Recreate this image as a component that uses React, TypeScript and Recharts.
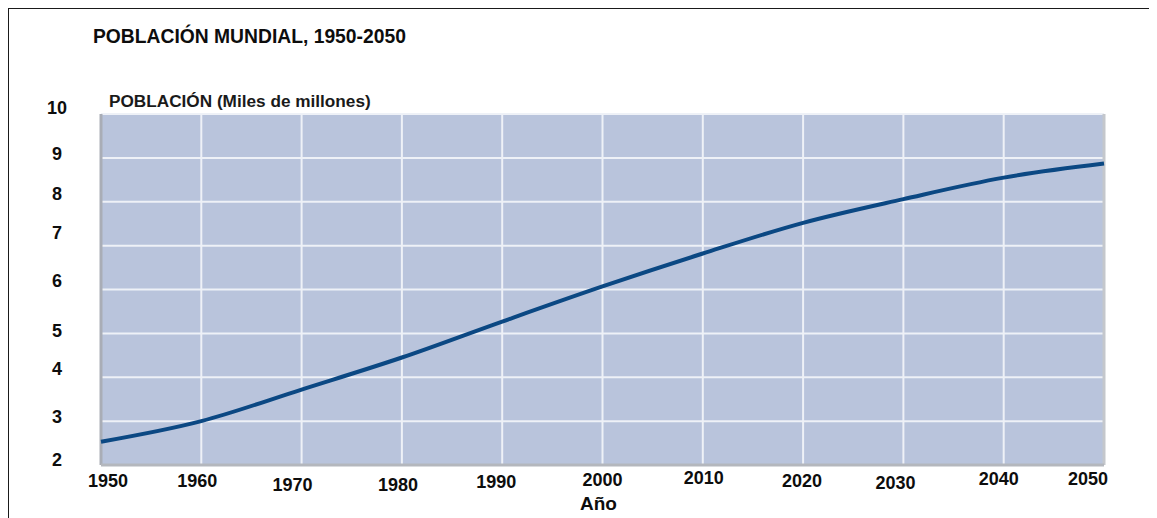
import { LineChart, Line, XAxis, YAxis, CartesianGrid, ReferenceLine } from 'recharts';

// World population, thousands of millions
const years = [1950, 1960, 1970, 1980, 1990, 2000, 2010, 2020, 2030, 2040, 2050];
const population = [2.53, 3.0, 3.72, 4.45, 5.27, 6.07, 6.82, 7.52, 8.06, 8.55, 8.87];
const yTicks = [2, 3, 4, 5, 6, 7, 8, 9, 10];

const data = years.map((year, i) => ({ year, pop: population[i] }));

const FONT = '"Liberation Sans", Arial, Helvetica, sans-serif';

// hand-set nudges so the labels sit like the printed original
const xNudge: Record<number, [number, number]> = {
  1950: [7, 16], 1960: [-4, 16], 1970: [-9, 20], 1980: [-4, 20], 1990: [-6, 17],
  2000: [0, 15], 2010: [1, 13], 2020: [-1, 16], 2030: [-8, 18], 2040: [-5, 14], 2050: [-16, 14],
};
const yNudge: Record<number, number> = { 10: -6, 9: -4, 8: -8, 7: -13, 6: -9, 5: -2, 4: -8, 3: -4, 2: -5 };

const XTick = ({ x, y, payload }: any) => {
  const [dx, dy] = xNudge[payload.value] ?? [0, 16];
  return (
    <text x={x + dx} y={y + dy} textAnchor="middle" dominantBaseline="central"
      fontFamily={FONT} fontWeight="bold" fontSize={18} fill="#0d0d0d">
      {payload.value}
    </text>
  );
};

const YTick = ({ x, y, payload }: any) => (
  <text x={x - 44} y={y + (yNudge[payload.value] ?? -5)} textAnchor="middle" dominantBaseline="central"
    fontFamily={FONT} fontWeight="bold" fontSize={18} fill="#0d0d0d">
    {payload.value}
  </text>
);

const AxisTitle = ({ viewBox }: any) => (
  <text x={viewBox.x + viewBox.width / 2 - 4} y={viewBox.y + 45} textAnchor="middle"
    fontFamily={FONT} fontWeight="bold" fontSize={19} fill="#0d0d0d">
    Año
  </text>
);

export default function App() {
  return (
    <div style={{ position: 'relative', width: 1149, height: 510, fontFamily: FONT }}>
      <div style={{ position: 'absolute', left: -1, top: -1, width: 1150, height: 511,
        borderTop: '2px solid #1a1a1a', borderLeft: '2px solid #1a1a1a' }} />
      <div style={{ position: 'absolute', left: 85, top: 19, fontSize: 19.3, lineHeight: '20px',
        fontWeight: 'bold', color: '#0d0d0d', whiteSpace: 'nowrap' }}>
        POBLACIÓN MUNDIAL, 1950-2050
      </div>
      <div style={{ position: 'absolute', left: 101, top: 84, fontSize: 17.2, lineHeight: '18px',
        fontWeight: 'bold', color: '#1a1a1a', whiteSpace: 'nowrap' }}>
        POBLACIÓN (Miles de millones)
      </div>
      <LineChart width={1149} height={510} data={data}
        margin={{ top: 106, right: 53, bottom: 0, left: 0 }}>
        <CartesianGrid fill="#b9c4dc" fillOpacity={1} stroke="#eef1f7" strokeWidth={2} />
        <XAxis dataKey="year" type="number" domain={[1950, 2050]} ticks={years}
          height={53} tickSize={0} tickMargin={0} tickLine={false} axisLine={false}
          tick={<XTick />} label={<AxisTitle />} />
        <YAxis domain={[2, 10]} ticks={yTicks} width={93} tickSize={0} tickMargin={0}
          tickLine={false} axisLine={false} tick={<YTick />} />
        <ReferenceLine x={1950} stroke="#a9adb6" strokeWidth={3} />
        <ReferenceLine x={2050} stroke="#c4c7cc" strokeWidth={3} />
        <ReferenceLine y={2} stroke="#b4b7bd" strokeWidth={3} />
        <Line type="monotone" dataKey="pop" stroke="#0b4883" strokeWidth={4}
          dot={false} isAnimationActive={false} />
      </LineChart>
    </div>
  );
}
